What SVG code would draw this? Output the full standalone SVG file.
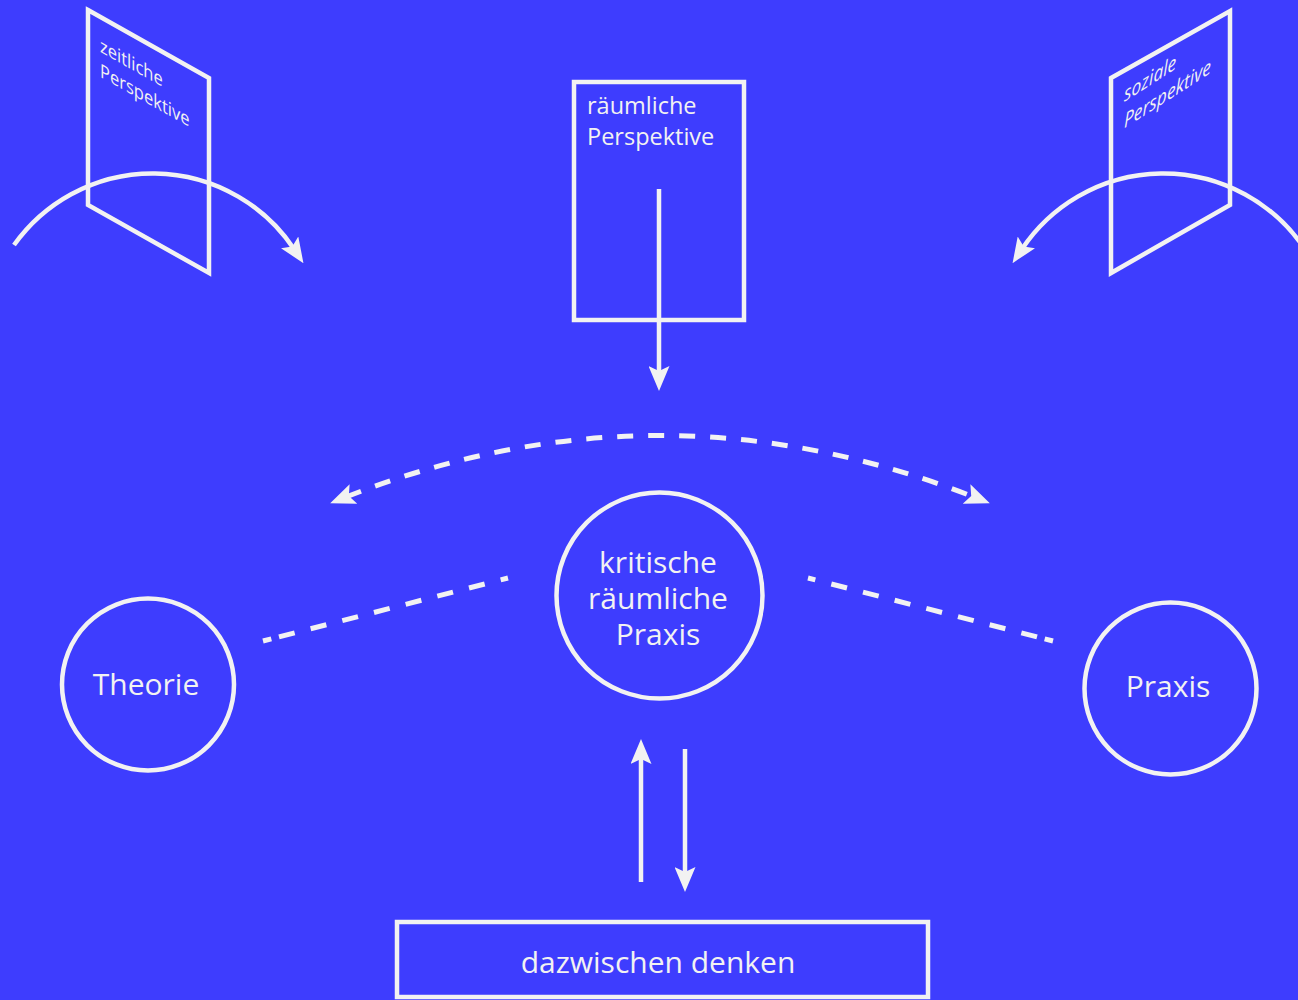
<svg xmlns="http://www.w3.org/2000/svg" width="1298" height="1000" viewBox="0 0 1298 1000">
  <defs>
    <style>
      .bg { fill: #3e3dfe; }
      .ln { fill: none; stroke: #f2f2f2; stroke-width: 4.5; }
      .sh { fill: none; stroke: #f2f2f2; stroke-width: 4.5; }
      .dash { fill: none; stroke: #f2f2f2; stroke-width: 5; }
      .t { fill: #f2f2f2; font-family: "Open Sans", "Noto Sans", "Liberation Sans", sans-serif; }
      .big { font-size: 30px; text-anchor: middle; }
      .mid { font-size: 23.5px; }
      .sm { font-size: 19px; }
    </style>
    <marker id="ah" markerUnits="userSpaceOnUse" viewBox="0 0 25 21" markerWidth="25" markerHeight="21" refX="8" refY="10.5" orient="auto-start-reverse">
      <path d="M0,0 L25,10.5 L0,21 L5,10.5 Z" fill="#f2f2f2" stroke="none"/>
    </marker>
  </defs>

  <rect class="bg" x="0" y="0" width="1298" height="1000"/>

  <g id="connectors">
    <path class="ln" d="M14,245 A170,170 0 0 1 294,249" marker-end="url(#ah)"/>
    <path class="ln" d="M1302,245 A170,170 0 0 0 1022,249" marker-end="url(#ah)"/>
    <path class="ln" d="M659,189 L659,374" marker-end="url(#ah)"/>
    <path class="dash" d="M346,497 Q660,374 974,497" stroke-dasharray="16 15" marker-start="url(#ah)" marker-end="url(#ah)"/>
    <path class="dash" d="M263,641 L508,578" stroke-dasharray="8.6 7.9 16.2 16.5 16.2 16.5 16.2 16.5 16.2 16.5 16.2 16.5 16.2 16.5 16.2 16.5 8 100"/>
    <path class="dash" d="M1053,641 L808,578" stroke-dasharray="8.6 7.9 16.2 16.5 16.2 16.5 16.2 16.5 16.2 16.5 16.2 16.5 16.2 16.5 16.2 16.5 8 100"/>
    <path class="ln" d="M641,882 L641,756" marker-end="url(#ah)"/>
    <path class="ln" d="M685,749 L685,875" marker-end="url(#ah)"/>
  </g>

  <g id="zeitliche-perspektive">
    <polygon class="sh" points="88,10 209,78 209,273 88,205"/>
    <text class="t sm" transform="matrix(0.87 0.49 0 1 100 51.7)"><tspan x="0" y="0">zeitliche</tspan><tspan x="0" y="25">Perspektive</tspan></text>
  </g>

  <g id="raeumliche-perspektive">
    <rect class="sh" x="574" y="82" width="170" height="238" stroke-width="5"/>
    <text class="t mid"><tspan x="587" y="114">räumliche</tspan><tspan x="587" y="145">Perspektive</tspan></text>
  </g>

  <g id="soziale-perspektive">
    <polygon class="sh" points="1111,78 1230,11 1230,205 1111,273"/>
    <text class="t" font-size="20" font-style="italic" transform="matrix(0.87 -0.56 0 1 1124 102)"><tspan x="0" y="0">soziale</tspan><tspan x="0" y="26.6">Perspektive</tspan></text>
  </g>

  <g id="theorie">
    <circle class="sh" cx="148" cy="684.5" r="86"/>
    <text class="t big" x="146" y="695">Theorie</text>
  </g>

  <g id="kritische-raeumliche-praxis">
    <circle class="sh" cx="659.5" cy="595.5" r="103"/>
    <text class="t big"><tspan x="658" y="573">kritische</tspan><tspan x="658" y="609">räumliche</tspan><tspan x="658" y="645">Praxis</tspan></text>
  </g>

  <g id="praxis">
    <circle class="sh" cx="1170.5" cy="688.5" r="86"/>
    <text class="t big" x="1168" y="697">Praxis</text>
  </g>

  <g id="dazwischen-denken">
    <rect class="sh" x="397" y="922" width="531" height="75" stroke-width="5"/>
    <text class="t big" x="658" y="973">dazwischen denken</text>
  </g>
</svg>
